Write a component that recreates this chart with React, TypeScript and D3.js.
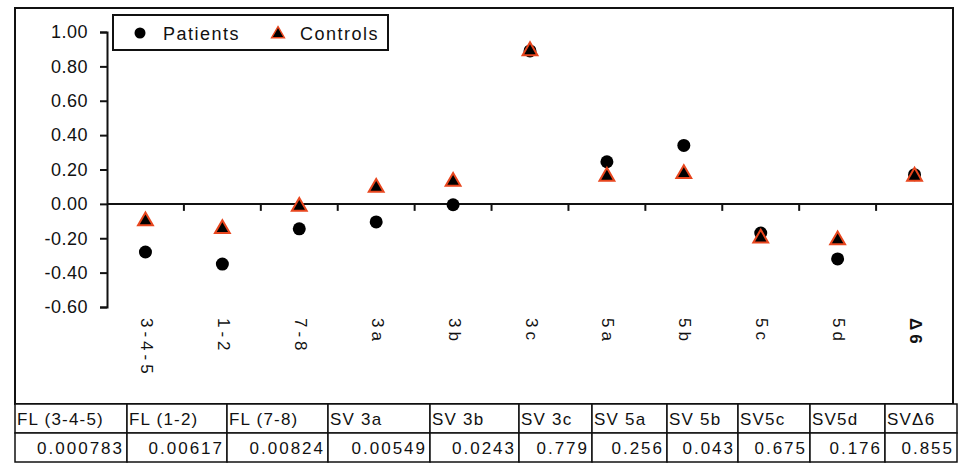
import React, { useEffect, useRef } from 'react';
import * as d3 from 'd3';

const categories = ['3-4-5', '1-2', '7-8', '3a', '3b', '3c', '5a', '5b', '5c', '5d', 'Δ6'];
const patients = [-0.28, -0.35, -0.145, -0.105, -0.005, 0.89, 0.245, 0.34, -0.17, -0.32, 0.17];
const controls = [-0.10, -0.145, -0.015, 0.095, 0.13, 0.89, 0.16, 0.175, -0.20, -0.21, 0.16];
const yTicks = [1.0, 0.8, 0.6, 0.4, 0.2, 0.0, -0.2, -0.4, -0.6];
const tableHeaders = ['FL (3-4-5)', 'FL (1-2)', 'FL (7-8)', 'SV 3a', 'SV 3b', 'SV 3c', 'SV 5a', 'SV 5b', 'SV5c', 'SV5d', 'SVΔ6'];
const tableValues = ['0.000783', '0.00617', '0.00824', '0.00549', '0.0243', '0.779', '0.256', '0.043', '0.675', '0.176', '0.855'];
const colWidths = [112, 100, 101, 102, 89, 73, 75, 71, 72, 75, 72];

const FONT = '"Liberation Sans", Arial, sans-serif';

export default function App() {
  const ref = useRef<SVGSVGElement>(null);

  useEffect(() => {
    const svg = d3.select(ref.current);
    svg.selectAll('*').remove();

    const plotL = 107, plotR = 953;
    const x = d3.scaleBand().domain(categories).range([plotL, plotR]);
    const y = d3.scaleLinear().domain([-0.6, 1.0]).range([307, 32]);

    // outer frame
    svg.append('rect')
      .attr('x', 15).attr('y', 8).attr('width', 938).attr('height', 396)
      .attr('fill', 'none').attr('stroke', '#111').attr('stroke-width', 2);

    // y axis (plain hyphen for negatives, like the original)
    const fmt = d3.format('.2f');
    const yAxis = svg.append('g')
      .attr('transform', `translate(${plotL},0)`)
      .call(d3.axisLeft(y).tickValues(yTicks).tickFormat(d => fmt(d as number).replace('−', '-')).tickSize(7).tickPadding(12));
    yAxis.select('.domain').attr('stroke', '#111').attr('stroke-width', 2);
    yAxis.selectAll('.tick line').attr('stroke', '#111').attr('stroke-width', 2);
    yAxis.selectAll('.tick text')
      .attr('font-family', FONT).attr('font-size', 18).attr('fill', '#111')
      .attr('letter-spacing', 0.5);

    // x axis line at zero with ticks at category boundaries
    const y0 = y(0);
    svg.append('line')
      .attr('x1', plotL).attr('x2', plotR).attr('y1', y0).attr('y2', y0)
      .attr('stroke', '#111').attr('stroke-width', 2);
    svg.append('g').selectAll('line')
      .data(categories)
      .join('line')
      .attr('x1', d => (x(d) as number) + x.bandwidth())
      .attr('x2', d => (x(d) as number) + x.bandwidth())
      .attr('y1', y0).attr('y2', y0 + 7)
      .attr('stroke', '#111').attr('stroke-width', 2);

    // rotated category labels
    svg.append('g').selectAll('text')
      .data(categories)
      .join('text')
      .attr('transform', d => `translate(${(x(d) as number) + x.bandwidth() / 2},318) rotate(90)`)
      .attr('dominant-baseline', 'middle')
      .attr('font-family', FONT).attr('font-size', 17).attr('letter-spacing', 4)
      .attr('font-weight', d => d === 'Δ6' ? 'bold' : 'normal')
      .attr('fill', '#111')
      .text(d => d);

    const cx = (i: number) => (x(categories[i]) as number) + x.bandwidth() / 2;

    // patients
    svg.append('g').selectAll('circle')
      .data(patients)
      .join('circle')
      .attr('cx', (_, i) => cx(i)).attr('cy', d => y(d)).attr('r', 6.5)
      .attr('fill', '#000');

    // controls
    const tri = d3.symbol().type(d3.symbolTriangle).size(95);
    svg.append('g').selectAll('path')
      .data(controls)
      .join('path')
      .attr('transform', (d, i) => `translate(${cx(i)},${y(d)})`)
      .attr('d', tri())
      .attr('fill', '#000').attr('stroke', '#e8461e').attr('stroke-width', 2);

    // legend
    const lg = svg.append('g');
    lg.append('rect')
      .attr('x', 113).attr('y', 15).attr('width', 275).attr('height', 35)
      .attr('fill', '#fff').attr('stroke', '#111').attr('stroke-width', 2);
    lg.append('circle').attr('cx', 140).attr('cy', 33).attr('r', 5.5).attr('fill', '#000');
    lg.append('text').attr('x', 163).attr('y', 40)
      .attr('font-family', FONT).attr('font-size', 18).attr('letter-spacing', 1.5).attr('fill', '#111')
      .text('Patients');
    lg.append('path').attr('transform', 'translate(278,34)').attr('d', d3.symbol().type(d3.symbolTriangle).size(70)())
      .attr('fill', '#000').attr('stroke', '#e8461e').attr('stroke-width', 1.5);
    lg.append('text').attr('x', 300).attr('y', 40)
      .attr('font-family', FONT).attr('font-size', 18).attr('letter-spacing', 1.5).attr('fill', '#111')
      .text('Controls');

    // table under the chart
    const edges = d3.cumsum(colWidths);
    const colX = (i: number) => 15 + (i === 0 ? 0 : edges[i - 1]);
    const tTop = 404, rowH = 29;
    const tb = svg.append('g');
    tableHeaders.forEach((h, i) => {
      const x0 = colX(i);
      tb.append('rect').attr('x', x0).attr('y', tTop).attr('width', colWidths[i]).attr('height', rowH)
        .attr('fill', '#fff').attr('stroke', '#111').attr('stroke-width', 1.5);
      tb.append('rect').attr('x', x0).attr('y', tTop + rowH).attr('width', colWidths[i]).attr('height', rowH)
        .attr('fill', '#fff').attr('stroke', '#111').attr('stroke-width', 1.5);
      tb.append('text').attr('x', x0 + 2).attr('y', tTop + 21)
        .attr('font-family', FONT).attr('font-size', 17).attr('letter-spacing', 1.2).attr('fill', '#111')
        .text(h);
      tb.append('text').attr('x', x0 + colWidths[i] - 3).attr('y', tTop + rowH + 21)
        .attr('text-anchor', 'end')
        .attr('font-family', FONT).attr('font-size', 17).attr('letter-spacing', 2).attr('fill', '#111')
        .text(tableValues[i]);
    });
  }, []);

  return (
    <svg ref={ref} width={959} height={464} style={{ position: 'absolute', left: 0, top: 0, background: '#fff' }} />
  );
}
